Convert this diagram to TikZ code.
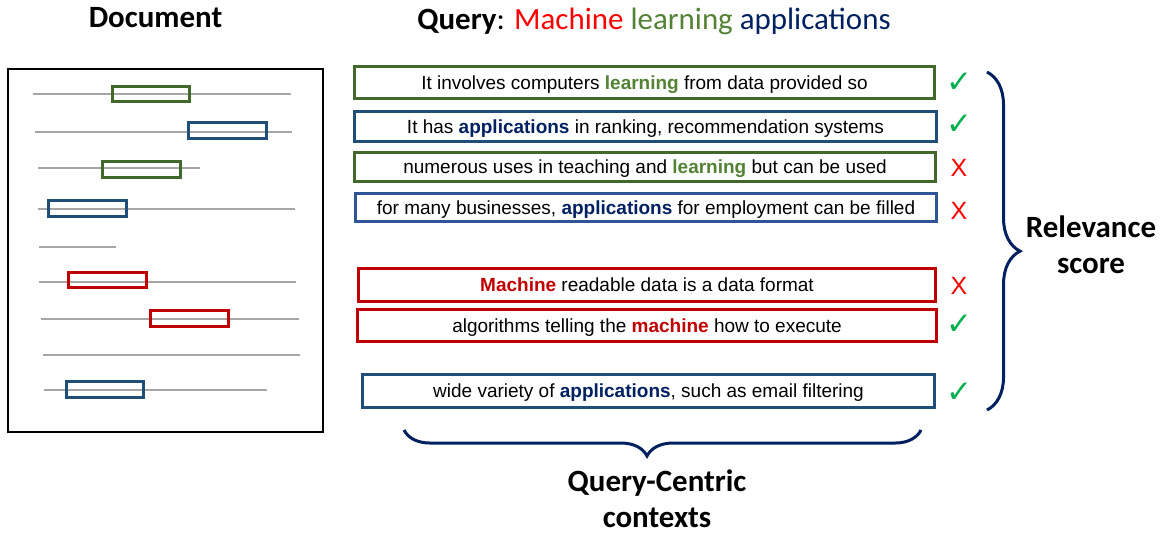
\documentclass[tikz,border=0pt]{standalone}
\usepackage{fontspec}
\setmainfont{Liberation Sans}
\newfontfamily\calibri{Carlito}
\newfontfamily\dejavu{DejaVu Sans}
\usetikzlibrary{decorations.pathreplacing}
\definecolor{gbox}{HTML}{43682B}
\definecolor{bbox}{HTML}{1F4E79}
\definecolor{bboxl}{HTML}{2F5597}
\definecolor{rbox}{HTML}{C00000}
\definecolor{gtext}{HTML}{548235}
\definecolor{btext}{HTML}{002060}
\definecolor{qred}{HTML}{FF0000}
\definecolor{okgreen}{HTML}{00B050}
\definecolor{lgray}{HTML}{A6A6A6}
\definecolor{navy}{HTML}{002060}
\begin{document}
\begin{tikzpicture}[x=0.01cm,y=-0.01cm,
  docline/.style={draw=lgray,line width=0.75pt},
  dbox/.style={draw=#1,line width=0.9pt},
  cbox/.style={draw=#1,line width=0.9pt,inner sep=0pt,
    font=\fontsize{5.4}{6.5}\selectfont,text height=3.87pt,text depth=0pt},
  titletext/.style={font=\calibri\bfseries\fontsize{8.8}{10}\selectfont},
  okmark/.style={text=okgreen,font=\dejavu\fontsize{8.8}{9}\selectfont,inner sep=0pt},
  nomark/.style={text=qred,font=\fontsize{7.1}{8}\selectfont,inner sep=0pt},
  bracepath/.style={draw=navy,line width=0.85pt,decorate,
    decoration={brace,amplitude=#1,aspect=0.53}},
]
\useasboundingbox (0,0) rectangle (1161,532);

% titles
\node[titletext,anchor=base] (doct) at (155.5,27) {Document};
\node[titletext,anchor=base] (qt) at (654,29) {Query\mdseries: {\color{qred}Machine} {\color{gtext}learning} {\color{btext}applications}};

% document
\node[draw=black,line width=0.6pt,minimum width=3.15cm,minimum height=3.63cm,inner sep=0pt] (doc) at (165.5,250.5) {};
\draw[docline] (33,94) -- (291,94);
\draw[docline] (35,132) -- (292,132);
\draw[docline] (38,168) -- (200,168);
\draw[docline] (38,209) -- (295,209);
\draw[docline] (39,247) -- (116,247);
\draw[docline] (39,282) -- (296,282);
\draw[docline] (41,319) -- (299,319);
\draw[docline] (43,355) -- (300,355);
\draw[docline] (44,390) -- (267,390);
\draw[dbox=gbox] (112.5,86.5) rectangle (189.5,101.5);
\draw[dbox=bbox] (188.5,122.5) rectangle (266.5,138.5);
\draw[dbox=gbox] (102.5,161.5) rectangle (180.5,177.5);
\draw[dbox=bbox] (48.5,200.5) rectangle (126.5,216.5);
\draw[dbox=rbox] (68.5,272.5) rectangle (146.5,287.5);
\draw[dbox=rbox] (150.5,310.5) rectangle (228.5,326.5);
\draw[dbox=bbox] (66.5,381.5) rectangle (143.5,397.5);

% contexts
\node[cbox=gbox,minimum width=5.80cm,minimum height=0.32cm] (c1) at (644.5,82.5)
  {It involves computers {\bfseries\color{gtext}learning} from data provided so};
\node[cbox=bbox,minimum width=5.82cm,minimum height=0.30cm] (c2) at (645.5,126.5)
  {It has {\bfseries\color{btext}applications} in ranking, recommendation systems};
\node[cbox=gbox,minimum width=5.81cm,minimum height=0.29cm] (c3) at (645,167)
  {numerous uses in teaching and {\bfseries\color{gtext}learning} but can be used};
\node[cbox=bboxl,minimum width=5.81cm,minimum height=0.28cm] (c4) at (646,207.5)
  {for many businesses, {\bfseries\color{btext}applications} for employment can be filled};
\node[cbox=rbox,minimum width=5.77cm,minimum height=0.33cm] (c5) at (647,285)
  {{\bfseries\color{rbox}Machine} readable data is a data format};
\node[cbox=rbox,minimum width=5.79cm,minimum height=0.32cm] (c6) at (647,325.5)
  {algorithms telling the {\bfseries\color{rbox}machine} how to execute};
\node[cbox=bbox,minimum width=5.72cm,minimum height=0.33cm] (c7) at (648.5,391)
  {wide variety of {\bfseries\color{btext}applications}, such as email filtering};

% marks
\node[okmark] (m1) at (959,83) {✓};
\node[okmark] (m2) at (959,125) {✓};
\node[nomark] (m3) at (959,168) {X};
\node[nomark] (m4) at (959,211) {X};
\node[nomark] (m5) at (959,286) {X};
\node[okmark] (m6) at (959,325) {✓};
\node[okmark] (m7) at (959,393) {✓};

% braces
\coordinate (rbT) at (987,72);
\coordinate (rbB) at (987,410);
\draw[bracepath=0.33cm] (rbT) -- (rbB);
\node[titletext,anchor=base] (rel) at (1091,237) {Relevance};
\node[titletext,anchor=base] (sco) at (1091,273) {score};

\coordinate (bbR) at (921,430);
\coordinate (bbL) at (404,430);
\draw[bracepath=0.26cm] (bbR) -- (bbL);
\node[titletext,anchor=base] (qc) at (657,491) {Query-Centric};
\node[titletext,anchor=base] (ctx) at (657,527) {contexts};
\end{tikzpicture}
\end{document}
